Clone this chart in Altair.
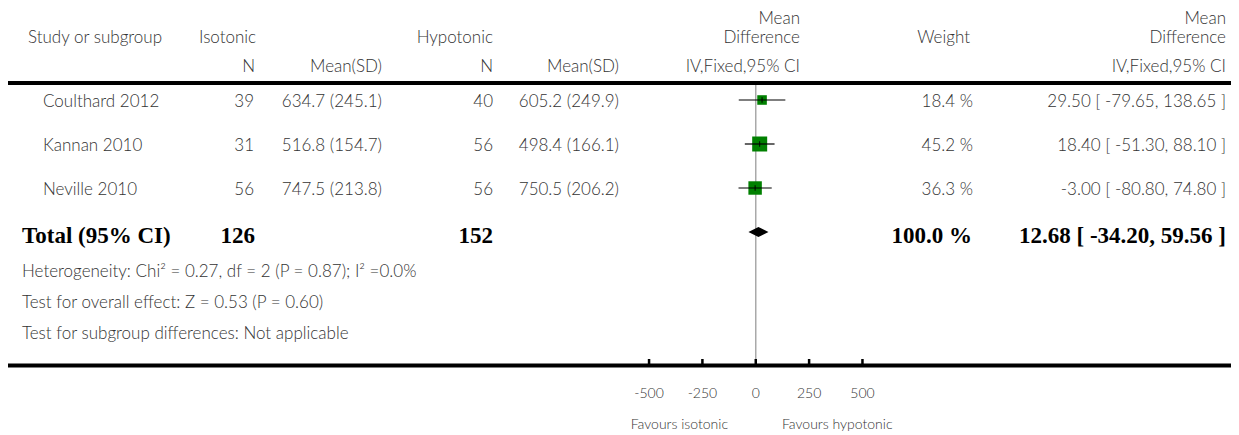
import altair as alt
import pandas as pd

# ---------------- data ----------------
studies = ["Coulthard 2012", "Kannan 2010", "Neville 2010"]
iso_n = [39, 31, 56]
iso_mean = [634.7, 516.8, 747.5]
iso_sd = [245.1, 154.7, 213.8]
hypo_n = [40, 56, 56]
hypo_mean = [605.2, 498.4, 750.5]
hypo_sd = [249.9, 166.1, 206.2]
weights = [18.4, 45.2, 36.3]
md = [29.50, 18.40, -3.00]
md_lo = [-79.65, -51.30, -80.80]
md_hi = [138.65, 88.10, 74.80]

total_label = "Total (95% CI)"
total_iso_n = 126
total_hypo_n = 152
total_weight = 100.0
total_md = 12.68
total_lo = -34.20
total_hi = 59.56

footnotes = [
    "Heterogeneity: Chi² = 0.27, df = 2 (P = 0.87); I² =0.0%",
    "Test for overall effect: Z = 0.53 (P = 0.60)",
    "Test for subgroup differences: Not applicable",
]
axis_ticks = [-500, -250, 0, 250, 500]
favours = ["Favours isotonic", "Favours hypotonic"]

# ---------------- tables ----------------
rows = pd.DataFrame({
    "row": list(range(len(studies))),
    "study": studies,
    "n1": [str(v) for v in iso_n],
    "msd1": [f"{m:.1f} ({s:.1f})" for m, s in zip(iso_mean, iso_sd)],
    "n2": [str(v) for v in hypo_n],
    "msd2": [f"{m:.1f} ({s:.1f})" for m, s in zip(hypo_mean, hypo_sd)],
    "weight": weights,
    "wtxt": [f"{w:.1f} %" for w in weights],
    "md": md,
    "lo": md_lo,
    "hi": md_hi,
    "citxt": [f"{m:.2f} [ {l:.2f}, {h:.2f} ]" for m, l, h in zip(md, md_lo, md_hi)],
})
total_row = len(studies)
half_h = 0.115
diamond = pd.DataFrame({
    "x": [total_lo, total_md, total_hi],
    "ylo": [total_row, total_row - half_h, total_row],
    "yhi": [total_row, total_row + half_h, total_row],
})
ticks = pd.DataFrame({"tick": axis_ticks, "label": [str(t) for t in axis_ticks]})
ONE = pd.DataFrame({"a": [0]})

SANS = "Lato"
SERIF = "Liberation Serif"
TXT = "#333333"
FS = 17
BFS = 23
LIGHT = 300

X = alt.Scale(domain=[-3504, 2227], nice=False, zero=False)
Y = alt.Scale(domain=[0, 3], range=[92, 224], nice=False, zero=False)


def label(txt, x, y, align="left", size=FS, weight=LIGHT, font=SANS, color=TXT):
    return alt.Chart(ONE).mark_text(
        text=txt, align=align, baseline="middle", fontSize=size,
        font=font, fontWeight=weight, color=color,
    ).encode(x=alt.value(x), y=alt.value(y))


def column(field, x, align="right"):
    return alt.Chart(rows).mark_text(
        align=align, baseline="middle", fontSize=FS, font=SANS, fontWeight=LIGHT,
        color=TXT, dy=2,
    ).encode(
        x=alt.value(x),
        y=alt.Y("row:Q", scale=Y, axis=None),
        text=alt.Text(f"{field}:N"),
    )


layers = []

# header texts
layers += [
    label("Study or subgroup", 20, 30),
    label("Isotonic", 191, 30),
    label("Hypotonic", 485, 30, align="right"),
    label("Mean", 792, 11, align="right"),
    label("Difference", 792, 30, align="right"),
    label("Weight", 962, 30, align="right"),
    label("Mean", 1218, 11, align="right"),
    label("Difference", 1218, 30, align="right"),
    label("N", 247, 59, align="right"),
    label("Mean(SD)", 374, 59, align="right"),
    label("N", 485, 59, align="right"),
    label("Mean(SD)", 611, 59, align="right"),
    label("IV,Fixed,95% CI", 792, 59, align="right"),
    label("IV,Fixed,95% CI", 1218, 59, align="right"),
]

# header rule and axis baseline
layers.append(alt.Chart(ONE).mark_rule(color="black", strokeWidth=4).encode(
    x=alt.value(-1), x2=alt.value(1224), y=alt.value(75)))
layers.append(alt.Chart(ONE).mark_rule(color="black", strokeWidth=4).encode(
    x=alt.value(-1), x2=alt.value(1224), y=alt.value(357.5)))

# zero line
layers.append(alt.Chart(pd.DataFrame({"x": [0]})).mark_rule(color="#a9a9a9", strokeWidth=1.5).encode(
    x=alt.X("x:Q", scale=X, axis=None), y=alt.value(77), y2=alt.value(356)))

# study table columns
layers += [
    column("study", 35, align="left"),
    column("n1", 246),
    column("msd1", 374),
    column("n2", 485),
    column("msd2", 611),
    column("wtxt", 965),
    column("citxt", 1218),
]

# squares
layers.append(alt.Chart(rows).mark_point(shape="square", filled=True, color="#008000", opacity=1).encode(
    x=alt.X("md:Q", scale=X, axis=None),
    y=alt.Y("row:Q", scale=Y, axis=None),
    size=alt.Size("weight:Q", scale=alt.Scale(domain=[0, 100], range=[0, 498]), legend=None),
))
# CI lines
layers.append(alt.Chart(rows).mark_rule(color="black", strokeWidth=1.2).encode(
    x=alt.X("lo:Q", scale=X, axis=None), x2="hi:Q",
    y=alt.Y("row:Q", scale=Y, axis=None),
))
# centre ticks
layers.append(alt.Chart(rows).mark_point(shape="M0,-1L0,1", size=30, filled=False, color="black", strokeWidth=1, opacity=1).encode(
    x=alt.X("md:Q", scale=X, axis=None),
    y=alt.Y("row:Q", scale=Y, axis=None),
))

# total diamond
layers.append(alt.Chart(diamond).mark_area(color="black", opacity=1).encode(
    x=alt.X("x:Q", scale=X, axis=None),
    y=alt.Y("ylo:Q", scale=Y, axis=None),
    y2="yhi:Q",
))

# total row texts
ty = 228
layers += [
    label(total_label, 14, ty, size=BFS, weight="bold", font=SERIF, color="black"),
    label(str(total_iso_n), 247, ty, align="right", size=BFS, weight="bold", font=SERIF, color="black"),
    label(str(total_hypo_n), 485, ty, align="right", size=BFS, weight="bold", font=SERIF, color="black"),
    label(f"{total_weight:.1f} %", 964, ty, align="right", size=BFS, weight="bold", font=SERIF, color="black"),
    label(f"{total_md:.2f} [ {total_lo:.2f}, {total_hi:.2f} ]", 1218, ty, align="right", size=BFS, weight="bold", font=SERIF, color="black"),
]

# footnotes
for txt, y in zip(footnotes, [264, 295, 326]):
    layers.append(label(txt, 14, y))

# axis ticks and labels
layers.append(alt.Chart(ticks).mark_rule(color="black", strokeWidth=2.5).encode(
    x=alt.X("tick:Q", scale=X, axis=None), y=alt.value(351), y2=alt.value(357)))
layers.append(alt.Chart(ticks).mark_text(fontSize=14, font=SANS, fontWeight=LIGHT, color=TXT, baseline="middle").encode(
    x=alt.X("tick:Q", scale=X, axis=None), y=alt.value(386), text="label:N"))

layers.append(label(favours[0], 720, 417, align="right", size=14))
layers.append(label(favours[1], 774, 417, align="left", size=14))

chart = alt.layer(*layers).properties(
    width=1223, height=427, padding=0, autosize="none"
).configure_view(stroke=None)

chart.save("out.html", embed_options={"renderer": "svg", "actions": False})
